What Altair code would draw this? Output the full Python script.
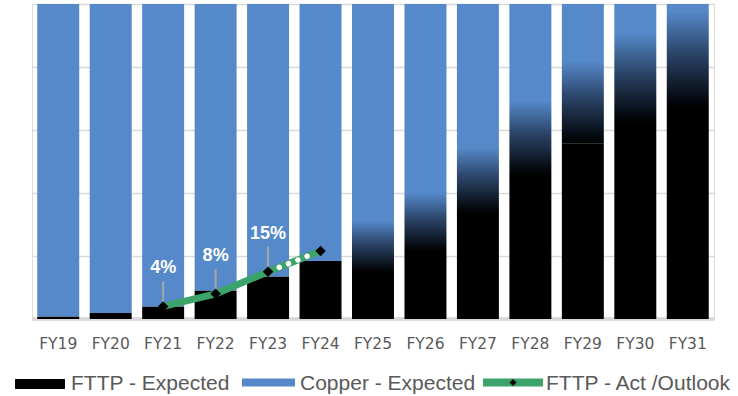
import altair as alt
import pandas as pd

# Financial years on the x axis
years = ["FY19", "FY20", "FY21", "FY22", "FY23", "FY24", "FY25",
         "FY26", "FY27", "FY28", "FY29", "FY30", "FY31"]

# Share of premises (%) on FTTP - expected (solid black part)
fttp_expected = [0.7, 1.9, 3.9, 9.0, 13.4, 18.4, 14.6,
                 21.3, 33.3, 45.4, 55.6, 62.2, 67.0]
# Upper end of the FTTP range (%); the blended zone lies between the two
fttp_upper = [0.7, 1.9, 3.9, 9.0, 13.4, 18.4, 32.4,
              41.3, 55.9, 71.1, 83.8, 92.7, 100.0]
# Copper - expected (%) is the remainder above the FTTP range
copper_expected = [round(100 - v, 1) for v in fttp_upper]

# FTTP actuals / outlook line
act_years = ["FY21", "FY22", "FY23", "FY24"]
act_values = [4, 8, 15, 21.6]
act_labels = ["4%", "8%", "15%", ""]

legend_names = ["FTTP - Expected", "Copper - Expected", "FTTP - Act /Outlook"]

BLUE = "#5589C9"
GREEN = "#3CA36B"
GREY_TEXT = "#595959"
GRID = "#D9D9D9"

bars = pd.DataFrame({
    "year": years,
    "fttp": fttp_expected,
    "upper": fttp_upper,
    "copper": copper_expected,
})
act = pd.DataFrame({"year": act_years, "value": act_values, "label": act_labels})
legend_df = pd.DataFrame({"name": legend_names})

x_axis = alt.Axis(title=None, labelAngle=0, ticks=False, domain=False,
                  labelPadding=17, labelFont="DejaVu Sans", labelFontSize=15.5,
                  labelColor=GREY_TEXT)
y_axis = alt.Axis(title=None, values=[0, 20, 40, 60, 80, 100], labels=False,
                  ticks=False, domain=False, grid=True, gridColor=GRID,
                  gridWidth=1.5)
x_scale = alt.Scale(paddingInner=0.2, paddingOuter=0.1)
y_scale = alt.Scale(domain=[0, 100], nice=False)


def X():
    return alt.X("year:N", sort=years, scale=x_scale, axis=x_axis)


def Y(field):
    return alt.Y(f"{field}:Q", scale=y_scale, axis=y_axis)


base_bars = alt.Chart(bars)

# Baseline under the bars
baseline = base_bars.mark_rule(color=GRID, strokeWidth=2.5).encode(
    y=alt.datum(0, scale=y_scale, axis=y_axis)
)

# Copper - expected: from the top of the FTTP range up to 100%
copper = base_bars.mark_bar(color=BLUE).transform_calculate(
    total="datum.upper + datum.copper"
).encode(x=X(), y=Y("upper"), y2="total:Q")

# FTTP - expected: solid black
fttp = base_bars.mark_bar(color="#000000").encode(x=X(), y=Y("fttp"))

# Blended range between FTTP and copper for the later years
blend_fill = alt.Gradient(
    gradient="linear",
    stops=[
        alt.GradientStop(color="#000000", offset=0),
        alt.GradientStop(color="#03060A", offset=0.06),
        alt.GradientStop(color="#2B4468", offset=0.52),
        alt.GradientStop(color=BLUE, offset=0.93),
        alt.GradientStop(color=BLUE, offset=1),
    ],
    x1=0, x2=0, y1=1, y2=0,
)
blend = base_bars.mark_bar(color=blend_fill).transform_filter(
    "datum.upper > datum.fttp"
).encode(x=X(), y=Y("fttp"), y2="upper:Q")

base_act = alt.Chart(act)

act_line = base_act.mark_line(color=GREEN, strokeWidth=7).encode(
    x=X(), y=Y("value")
)

# Outlook segment: white dots over the green line
outlook_dots = base_act.mark_line(
    color="white", strokeWidth=5.5, strokeCap="round",
    strokeDash=[0.01, 10, 0.01, 10, 0.01, 10, 0.01, 100],
    strokeDashOffset=118.04,
).transform_filter(
    alt.FieldOneOfPredicate(field="year", oneOf=act_years[-2:])
).encode(x=X(), y=Y("value"))

leaders = base_act.mark_rule(
    color="#A6A6A6", strokeWidth=2, y2Offset=-25
).transform_filter("datum.label != ''").encode(
    x=X(), y=Y("value"), y2="value:Q"
)

act_points = base_act.mark_point(
    shape="diamond", filled=True, size=110, color="#000000", opacity=1
).encode(x=X(), y=Y("value"))

act_text = base_act.mark_text(
    color="white", fontWeight="bold", fontSize=18, font="Liberation Sans",
    dy=-38, baseline="middle", align="center",
).transform_filter("datum.label != ''").encode(
    x=X(), y=Y("value"), text="label:N"
)

# Legend row along the bottom
leg = alt.Chart(legend_df)
LEG_Y = 380


def leg_text(i, x):
    return leg.mark_text(
        align="left", baseline="middle", font="Liberation Sans",
        fontSize=21, color=GREY_TEXT,
    ).transform_filter(
        alt.FieldEqualPredicate(field="name", equal=legend_names[i])
    ).encode(x=alt.value(x), y=alt.value(LEG_Y), text="name:N")


def leg_swatch(i, x0, x1, y0, y1, color):
    return leg.mark_rect(color=color).transform_filter(
        alt.FieldEqualPredicate(field="name", equal=legend_names[i])
    ).encode(x=alt.value(x0), x2=alt.value(x1),
             y=alt.value(y0), y2=alt.value(y1))


legend_layers = [
    leg_swatch(0, -17, 33, 375, 385, "#000000"),
    leg_text(0, 39),
    leg_swatch(1, 210, 263, 374.5, 382.5, BLUE),
    leg_text(1, 268),
    leg_swatch(2, 451, 511, 374.5, 382.5, GREEN),
    leg.mark_point(shape="diamond", filled=True, size=50, color="#000000",
                   opacity=1).transform_filter(
        alt.FieldEqualPredicate(field="name", equal=legend_names[2])
    ).encode(x=alt.value(481), y=alt.value(378.5)),
    leg_text(2, 514),
]

chart = alt.layer(
    baseline, copper, fttp, blend, act_line, outlook_dots, leaders,
    act_points, act_text, *legend_layers,
).properties(
    width=682, height=315,
    autosize=alt.AutoSizeParams(type="none"),
    padding={"left": 32, "top": 4, "right": 24, "bottom": 77},
).configure_view(stroke=None).configure(background="white")

chart.save("out.html", embed_options={"renderer": "svg", "actions": False})
